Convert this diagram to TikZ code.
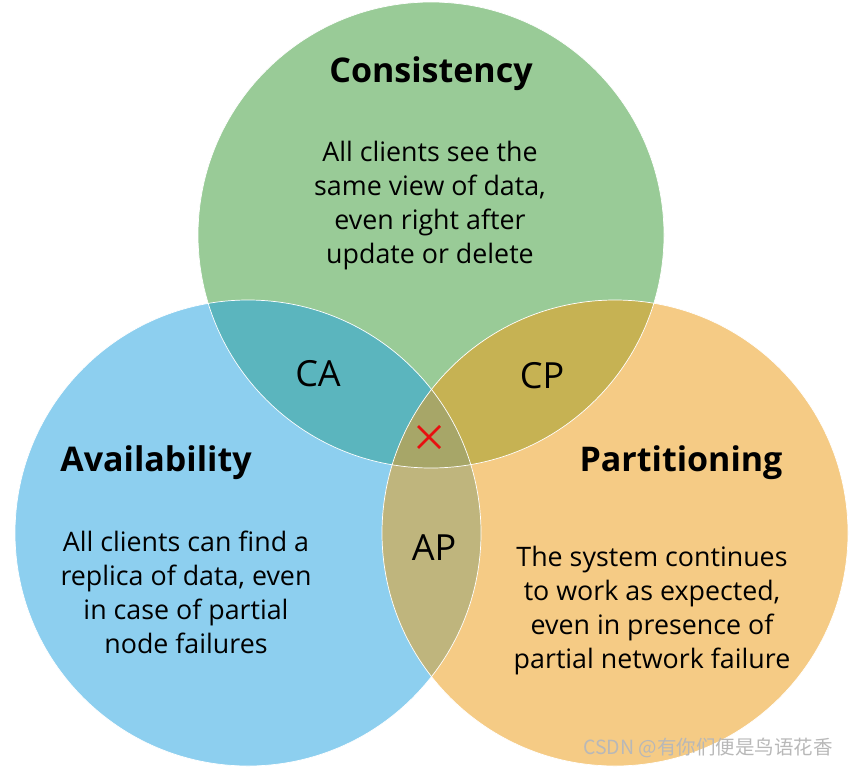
\documentclass[tikz,border=0pt]{standalone}
\usepackage{fontspec}
\setmainfont{Open Sans}
\newfontfamily\cjkfont{Noto Sans CJK SC}
\usepackage{tikz}
\usetikzlibrary{calc}

\definecolor{cgreen}{HTML}{99CB97}
\definecolor{cblue}{HTML}{8DCFEF}
\definecolor{corange}{HTML}{F5CB85}
\definecolor{caca}{HTML}{5BB5BE}
\definecolor{cacp}{HTML}{C6B253}
\definecolor{caap}{HTML}{BFB57D}
\definecolor{camid}{HTML}{A7A668}
\definecolor{crossred}{HTML}{E81010}

\begin{document}
\begin{tikzpicture}[x=1pt,y=-1pt,
    title/.style={font=\fontsize{34}{40}\selectfont\bfseries, inner sep=0pt, anchor=base},
    body/.style={font=\fontsize{26.8}{34}\selectfont, align=center, inner sep=0pt, anchor=base},
    pair/.style={font=\fontsize{36}{40}\selectfont, inner sep=0pt, anchor=base},
    rim/.style={draw=white, line width=0.7pt}]
    \useasboundingbox (0,0) rectangle (850,768);

    \coordinate (C) at (431,235);
    \coordinate (A) at (248,533);
    \coordinate (P) at (615,533);

    % the three sets
    \fill[cgreen] (C) circle (233pt);
    \fill[cblue] (A) circle (233pt);
    \fill[corange] (P) circle (233pt);

    % pairwise overlaps
    \begin{scope}
      \clip (C) circle (233pt);
      \fill[caca] (A) circle (233pt);
      \fill[cacp] (P) circle (233pt);
    \end{scope}
    \begin{scope}
      \clip (A) circle (233pt);
      \fill[caap] (P) circle (233pt);
    \end{scope}
    \begin{scope}
      \clip (C) circle (233pt);
      \clip (A) circle (233pt);
      \fill[camid] (P) circle (233pt);
    \end{scope}

    \draw[rim] (C) circle (233pt);
    \draw[rim] (A) circle (233pt);
    \draw[rim] (P) circle (233pt);

    % base anchor sits on the last line
    \node[title] (ct) at (431,82) {Consistency};
    \node[body] (cb) at (430,263) {All clients see the\\same view of data,\\even right after\\update or delete};

    \node[title] (at) at (156,471) {Availability};
    \node[body] (ab) at (186,653) {All clients can find a\\replica of data, even\\in case of partial\\node failures};

    \node[title] (pt) at (681,471) {Partitioning};
    \node[body] (pb) at (652,668) {The system continues\\to work as expected,\\even in presence of\\partial network failure};

    \node[pair] (ca) at (318,386) {CA};
    \node[pair] (cp) at (542,388) {CP};
    \node[pair] (ap) at (434,560) {AP};

    \coordinate (x) at (429,437);
    \draw[crossred, line width=2.6pt] ($(x)+(-11,-11)$) -- ($(x)+(11,11)$);
    \draw[crossred, line width=2.6pt] ($(x)+(-11,11)$) -- ($(x)+(11,-11)$);

    \node[font=\fontsize{19.5}{22}\selectfont\cjkfont, text=black!28, inner sep=0pt] (mark) at (708,748) {CSDN @有你们便是鸟语花香};
\end{tikzpicture}
\end{document}
